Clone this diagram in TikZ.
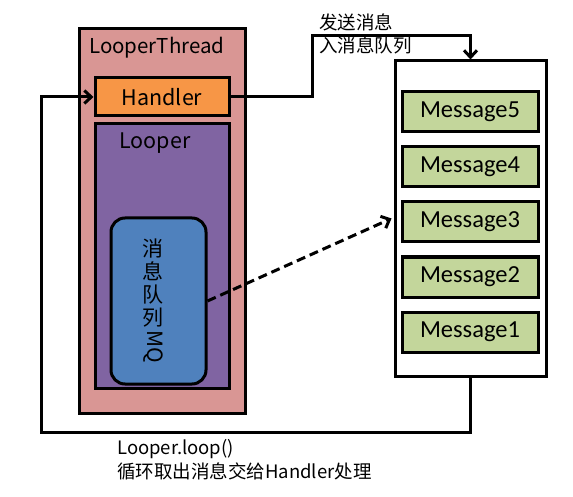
\documentclass[tikz,border=0pt]{standalone}
\usepackage{fontspec}
\setmainfont{Noto Sans CJK SC}
\newfontfamily\msgfont{Carlito}
\usetikzlibrary{arrows.meta}
\definecolor{cthread}{HTML}{D99694}
\definecolor{chandler}{HTML}{F79646}
\definecolor{clooper}{HTML}{8064A2}
\definecolor{cmq}{HTML}{4F81BD}
\definecolor{cmsg}{HTML}{C3D69B}
\tikzset{
  boxsty/.style={draw=black, line width=3pt, inner sep=0pt},
  msgbox/.style={boxsty, fill=cmsg, minimum width=136pt, minimum height=40pt, font=\msgfont\fontsize{24.5}{26}\selectfont},
  conn/.style={draw=black, line width=3pt},
  arr/.style={conn, -{Straight Barb[length=7pt,width=13pt,line width=3pt]}},
  lbl/.style={inner sep=0pt, anchor=west, font=\fontsize{18.5}{20}\selectfont},
  big/.style={font=\fontsize{21.5}{24}\selectfont}
}
\begin{document}
\begin{tikzpicture}[x=1pt,y=-1pt]
\useasboundingbox (0,0) rectangle (573,497);
% LooperThread
\node[boxsty, fill=cthread, minimum width=166pt, minimum height=384pt] (thread) at (162,221) {};
\node[font=\fontsize{20.5}{24}\selectfont, inner sep=0pt, anchor=west] (threadlbl) at (89,48) {LooperThread};
\node[boxsty, fill=chandler, minimum width=134pt, minimum height=38pt, big] (handler) at (162,97) {Handler};
\node[boxsty, fill=clooper, minimum width=134pt, minimum height=264pt] (looper) at (162,256) {};
\node[big, inner sep=0pt] (looperlbl) at (155,143) {Looper};
\node[boxsty, fill=cmq, rounded corners=14pt, minimum width=95pt, minimum height=166pt] (mq) at (158.5,301) {};
\node[inner sep=0pt, align=center, font=\fontsize{21}{25}\selectfont] (mqlbl) at (153,301) {消\\[-2pt]息\\[-2pt]队\\[-2pt]列\\[2pt]\rotatebox[origin=c]{-90}{MQ}};
% message container
\node[boxsty, fill=white, minimum width=151pt, minimum height=315pt] (container) at (470.5,218.5) {};
\node[msgbox] (m5) at (470,112) {Message5};
\node[msgbox] (m4) at (470,167) {Message4};
\node[msgbox] (m3) at (470,222) {Message3};
\node[msgbox] (m2) at (470,277) {Message2};
\node[msgbox] (m1) at (470,332) {Message1};
% connectors
\coordinate (bendA) at (312,36);
\coordinate (bendB) at (41,432);
\draw[arr] (handler.east) -| (bendA) -| (container.north);
\draw[arr] (container.south) |- (bendB) |- (handler.west);
\draw[arr, dash pattern=on 9pt off 5pt] (mq.east) -- ([xshift=-2pt]container.west);
% labels
\node[lbl] (sendlbl1) at (319,22) {发送消息};
\node[lbl] (sendlbl2) at (319,45) {入消息队列};
\node[lbl] (looplbl1) at (117,449) {Looper.loop()};
\node[lbl] (looplbl2) at (117,471) {循环取出消息交给Handler处理};
\end{tikzpicture}
\end{document}
